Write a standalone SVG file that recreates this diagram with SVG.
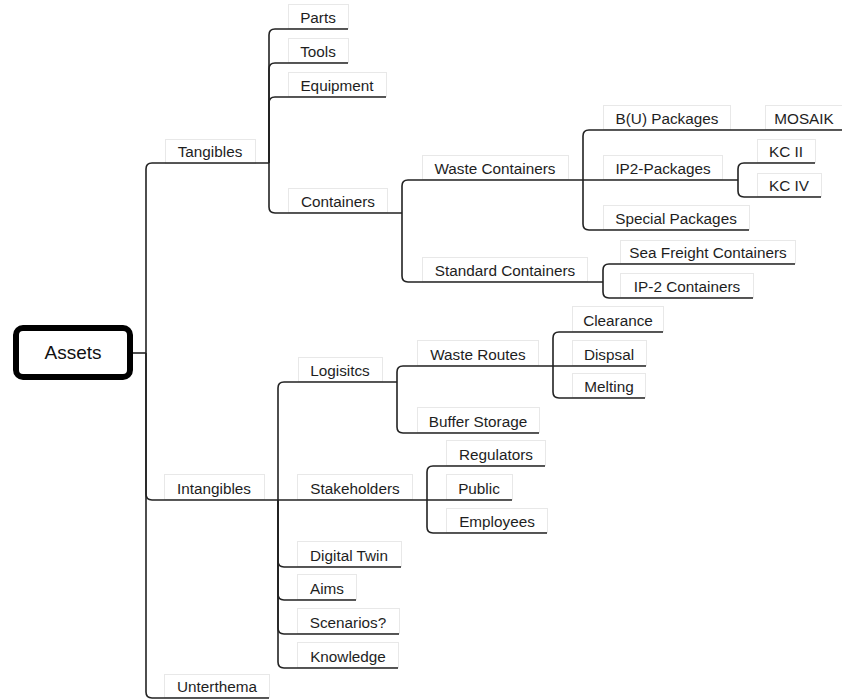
<svg xmlns="http://www.w3.org/2000/svg" width="842" height="700" viewBox="0 0 842 700">
  <style>
    .bg { fill: #ffffff; }
    .box { fill: #ffffff; stroke: #e8e8e8; stroke-width: 1; }
    .lbl { font-family: "Liberation Sans", Arial, sans-serif; font-size: 15.3px; fill: #1e1e1e; text-anchor: middle; }
    .root rect { fill: #ffffff; stroke: #000000; stroke-width: 6; }
    .root text { font-family: "Liberation Sans", Arial, sans-serif; font-size: 19px; fill: #111111; text-anchor: middle; }
    .conn path { fill: none; stroke: #222222; stroke-width: 1.6; stroke-linecap: butt; }
  </style>
  <rect class="bg" x="0" y="0" width="842" height="700"/>

  <!-- topic frames and labels -->
  <g id="assets" class="root">
    <rect x="16" y="328" width="114" height="49" rx="7"/>
    <text x="73" y="359">Assets</text>
  </g>

  <g id="tangibles"><rect class="box" x="165.5" y="139.5" width="90" height="24"/><text class="lbl" x="210" y="157">Tangibles</text></g>
  <g id="parts"><rect class="box" x="288.5" y="4.5" width="60" height="24"/><text class="lbl" x="318" y="22.5">Parts</text></g>
  <g id="tools"><rect class="box" x="288.5" y="38.5" width="60" height="24"/><text class="lbl" x="318" y="56.5">Tools</text></g>
  <g id="equipment"><rect class="box" x="288.5" y="72.5" width="98" height="24"/><text class="lbl" x="337" y="90.5">Equipment</text></g>
  <g id="containers"><rect class="box" x="288.5" y="188.5" width="99" height="24"/><text class="lbl" x="338" y="206.5">Containers</text></g>

  <g id="waste-containers"><rect class="box" x="422.5" y="155.5" width="146" height="24"/><text class="lbl" x="495" y="173.5">Waste Containers</text></g>
  <g id="standard-containers"><rect class="box" x="422.5" y="257.5" width="165" height="24"/><text class="lbl" x="505" y="275.5">Standard Containers</text></g>

  <g id="bu-packages"><rect class="box" x="603.5" y="105.5" width="127" height="24"/><text class="lbl" x="667" y="123.5">B(U) Packages</text></g>
  <g id="mosaik"><rect class="box" x="765.5" y="105.5" width="77" height="24"/><text class="lbl" x="804" y="123.5">MOSAIK</text></g>
  <g id="ip2-packages"><rect class="box" x="603.5" y="155.5" width="119" height="24"/><text class="lbl" x="663" y="173.5">IP2-Packages</text></g>
  <g id="special-packages"><rect class="box" x="603.5" y="205.5" width="146" height="24"/><text class="lbl" x="676" y="223.5">Special Packages</text></g>
  <g id="kc-ii"><rect class="box" x="757.5" y="139.5" width="58" height="23"/><text class="lbl" x="786" y="156.5">KC II</text></g>
  <g id="kc-iv"><rect class="box" x="757.5" y="173.5" width="64" height="23"/><text class="lbl" x="789" y="190.5">KC IV</text></g>
  <g id="sea-freight"><rect class="box" x="620.5" y="240.5" width="175" height="23"/><text class="lbl" x="708" y="257.5">Sea Freight Containers</text></g>
  <g id="ip2-containers"><rect class="box" x="620.5" y="273.5" width="133" height="24"/><text class="lbl" x="687" y="291.5">IP-2 Containers</text></g>

  <g id="intangibles"><rect class="box" x="164.5" y="474.5" width="100" height="25"/><text class="lbl" x="214" y="493.5">Intangibles</text></g>
  <g id="unterthema"><rect class="box" x="164.5" y="674.5" width="105" height="23"/><text class="lbl" x="217" y="691.5">Unterthema</text></g>

  <g id="logistics"><rect class="box" x="298.5" y="357.5" width="84" height="24"/><text class="lbl" x="340" y="375.5">Logisitcs</text></g>
  <g id="stakeholders"><rect class="box" x="297.5" y="474.5" width="115" height="25"/><text class="lbl" x="355" y="493.5">Stakeholders</text></g>
  <g id="digital-twin"><rect class="box" x="297.5" y="541.5" width="104" height="25"/><text class="lbl" x="349" y="560.5">Digital Twin</text></g>
  <g id="aims"><rect class="box" x="297.5" y="574.5" width="59" height="25"/><text class="lbl" x="327" y="593.5">Aims</text></g>
  <g id="scenarios"><rect class="box" x="297.5" y="608.5" width="102" height="25"/><text class="lbl" x="348" y="627.5">Scenarios?</text></g>
  <g id="knowledge"><rect class="box" x="297.5" y="642.5" width="101" height="25"/><text class="lbl" x="348" y="661.5">Knowledge</text></g>

  <g id="waste-routes"><rect class="box" x="417.5" y="340.5" width="121" height="25"/><text class="lbl" x="478" y="359.5">Waste Routes</text></g>
  <g id="buffer-storage"><rect class="box" x="417.5" y="407.5" width="122" height="25"/><text class="lbl" x="478" y="426.5">Buffer Storage</text></g>
  <g id="clearance"><rect class="box" x="572.5" y="306.5" width="91" height="25"/><text class="lbl" x="618" y="325.5">Clearance</text></g>
  <g id="dispsal"><rect class="box" x="572.5" y="340.5" width="74" height="25"/><text class="lbl" x="609" y="359.5">Dispsal</text></g>
  <g id="melting"><rect class="box" x="572.5" y="373.5" width="73" height="24"/><text class="lbl" x="609" y="391.5">Melting</text></g>

  <g id="regulators"><rect class="box" x="446.5" y="440.5" width="99" height="25"/><text class="lbl" x="496" y="459.5">Regulators</text></g>
  <g id="public"><rect class="box" x="446.5" y="474.5" width="66" height="25"/><text class="lbl" x="479" y="493.5">Public</text></g>
  <g id="employees"><rect class="box" x="446.5" y="508.5" width="101" height="24"/><text class="lbl" x="497" y="526.5">Employees</text></g>

  <!-- connectors: each runs from the parent junction to the child's underline -->
  <g id="connectors" class="conn">
    <path d="M133,353 H146"/>
    <path d="M146,353 V169 Q146,163 152,163 H269"/>
    <path d="M146,353 V494 Q146,500 152,500 H278"/>
    <path d="M146,353 V692 Q146,698 152,698 H269"/>

    <path d="M269,163 V35 Q269,29 275,29 H348"/>
    <path d="M269,163 V69 Q269,63 275,63 H348"/>
    <path d="M269,163 V103 Q269,97 275,97 H386"/>
    <path d="M269,163 V207 Q269,213 275,213 H402"/>

    <path d="M402,213 V186 Q402,180 408,180 H583"/>
    <path d="M402,213 V276 Q402,282 408,282 H603"/>

    <path d="M583,180 V136 Q583,130 589,130 H765"/>
    <path d="M765,130 H842"/>
    <path d="M583,180 H738"/>
    <path d="M583,180 V224 Q583,230 589,230 H749"/>

    <path d="M738,180 V169 Q738,163 744,163 H815"/>
    <path d="M738,180 V191 Q738,197 744,197 H821"/>

    <path d="M603,282 V270 Q603,264 609,264 H795"/>
    <path d="M603,282 V292 Q603,298 609,298 H753"/>

    <path d="M278,500 V388 Q278,382 284,382 H397"/>
    <path d="M278,500 H427"/>
    <path d="M278,500 V561 Q278,567 284,567 H401"/>
    <path d="M278,500 V594 Q278,600 284,600 H356"/>
    <path d="M278,500 V628 Q278,634 284,634 H399"/>
    <path d="M278,500 V662 Q278,668 284,668 H398"/>

    <path d="M397,382 V372 Q397,366 403,366 H553"/>
    <path d="M397,382 V427 Q397,433 403,433 H539"/>

    <path d="M553,366 V338 Q553,332 559,332 H663"/>
    <path d="M553,366 H646"/>
    <path d="M553,366 V392 Q553,398 559,398 H645"/>

    <path d="M427,500 V472 Q427,466 433,466 H545"/>
    <path d="M427,500 H512"/>
    <path d="M427,500 V527 Q427,533 433,533 H547"/>
  </g>
</svg>
